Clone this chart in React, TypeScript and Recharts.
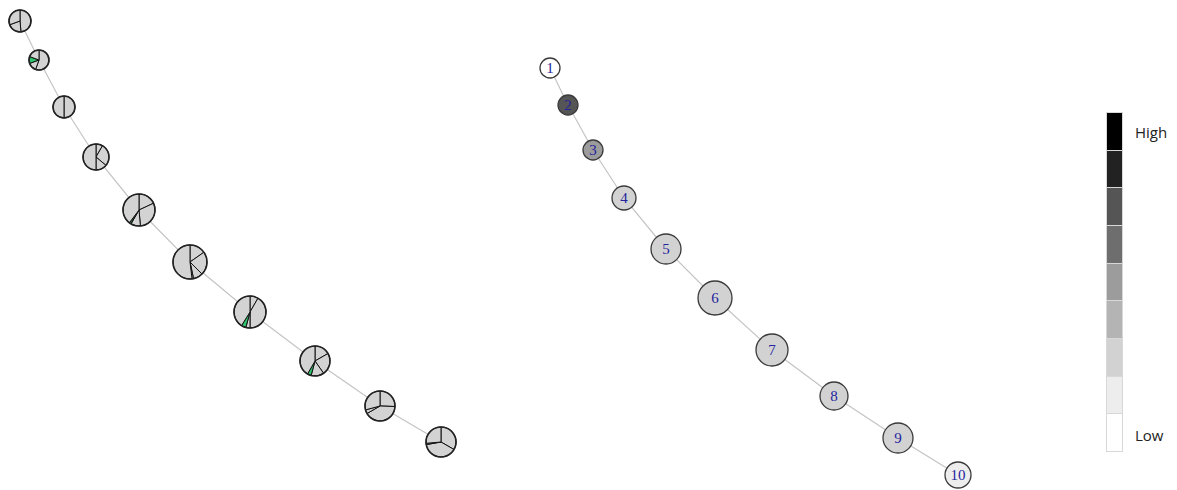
import React from "react";
import { ScatterChart, Scatter, XAxis, YAxis, ZAxis, Sector } from "recharts";

// layout of the two drawings (chart coords, y grows downward)
const pieX = [12, 31, 56, 88, 131, 182, 242, 307, 372, 433];
const pieY = [13, 52, 99, 149, 202, 254, 304, 353, 398, 434];
const pieWeight = [121, 100, 121, 169, 256, 289, 256, 225, 225, 225];

// slice sizes in degrees, clockwise from 12 o'clock; kind 0 = other, 1 = green, 2 = dark green
const pieSlices = [
  [175, 75, 110],
  [200, 50, 40, 70],
  [180, 180],
  [30, 100, 50, 180],
  [65, 110, 35, 7, 143],
  [55, 80, 33, 5, 187],
  [30, 150, 15, 17, 148],
  [60, 85, 50, 15, 150],
  [92, 148, 15, 105],
  [120, 140, 5, 95],
];
const pieKinds = [
  [0, 0, 0],
  [0, 0, 1, 0],
  [0, 0],
  [0, 0, 0, 0],
  [0, 0, 0, 2, 0],
  [0, 0, 0, 0, 0],
  [0, 0, 0, 1, 0],
  [0, 0, 0, 1, 0],
  [0, 0, 0, 0],
  [0, 0, 0, 0],
];

const nodeLabels = ["1", "2", "3", "4", "5", "6", "7", "8", "9", "10"];
const nodeX = [542, 560, 585, 616, 658, 707, 764, 826, 890, 950];
const nodeY = [60, 97, 142, 190, 241, 290, 342, 388, 430, 467];
const nodeWeight = [100, 100, 100, 144, 225, 289, 256, 196, 225, 169];
const nodeLevel = [0, 6, 4, 2, 2, 2, 2, 2, 2, 1];

// legend scale, low -> high
const levelColors = ["#ffffff", "#ededed", "#d2d2d2", "#b4b4b4", "#9c9c9c", "#6e6e6e", "#555555", "#222222", "#000000"];
const kindColors = ["#d3d3d3", "#2fc36d", "#2d6b3c"];

const W = 1161;
const H = 482;

const pieData = pieX.map((x, i) => ({ x, y: pieY[i], z: pieWeight[i], idx: i }));
const nodeData = nodeX.map((x, i) => ({ x, y: nodeY[i], z: nodeWeight[i], idx: i }));

const radiusOf = (props: any) => {
  const s = props.size ?? props.payload?.z ?? 100;
  return Math.sqrt(s / Math.PI);
};

const PieShape = (props: any) => {
  const { cx, cy, payload } = props;
  const r = radiusOf(props);
  const slices = pieSlices[payload.idx];
  const kinds = pieKinds[payload.idx];
  let acc = 0;
  return (
    <g>
      {slices.map((v, k) => {
        const start = 90 - acc;
        acc += v;
        return (
          <Sector
            key={k}
            cx={cx}
            cy={cy}
            innerRadius={0}
            outerRadius={r}
            startAngle={start}
            endAngle={90 - acc}
            fill={kindColors[kinds[k]]}
            stroke="#111"
            strokeWidth={1}
          />
        );
      })}
      <circle cx={cx} cy={cy} r={r} fill="none" stroke="#222" strokeWidth={1.6} />
    </g>
  );
};

const NodeShape = (props: any) => {
  const { cx, cy, payload } = props;
  const r = radiusOf(props);
  return (
    <g>
      <circle cx={cx} cy={cy} r={r} fill={levelColors[nodeLevel[payload.idx]]} stroke="#3a3a3a" strokeWidth={1.3} />
      <text
        x={cx}
        y={cy}
        dy="0.35em"
        textAnchor="middle"
        fill="#24249c"
        fontFamily="'Liberation Serif', serif"
        fontSize={15}
      >
        {nodeLabels[payload.idx]}
      </text>
    </g>
  );
};

export default function App() {
  const blockH = 348 / levelColors.length;
  return (
    <div style={{ position: "relative", width: W, height: H }}>
      <ScatterChart width={W} height={H} margin={{ top: 0, right: 0, bottom: 0, left: 0 }}>
        <XAxis type="number" dataKey="x" domain={[0, W]} hide />
        <YAxis type="number" dataKey="y" domain={[0, H]} reversed hide />
        <ZAxis type="number" dataKey="z" domain={[0, 400]} range={[0, 400 * Math.PI]} />
        <Scatter
          data={pieData}
          line={{ stroke: "#c4c4c4", strokeWidth: 1.2 }}
          shape={PieShape}
          isAnimationActive={false}
        />
        <Scatter
          data={nodeData}
          line={{ stroke: "#c4c4c4", strokeWidth: 1.2 }}
          shape={NodeShape}
          isAnimationActive={false}
        />
      </ScatterChart>
      <div style={{ position: "absolute", left: 1098, top: 104, width: 17 }}>
        {[...levelColors].reverse().map((c, i) => (
          <div
            key={i}
            style={{
              height: blockH,
              boxSizing: "border-box",
              background: c,
              border: "1px solid #d8d8d8",
              marginTop: i ? -1 : 0,
            }}
          />
        ))}
      </div>
      <div style={{ position: "absolute", left: 1127, top: 114, fontFamily: "'Open Sans', sans-serif", fontSize: 15, color: "#222" }}>
        High
      </div>
      <div style={{ position: "absolute", left: 1127, top: 417, fontFamily: "'Open Sans', sans-serif", fontSize: 15, color: "#222" }}>
        Low
      </div>
    </div>
  );
}
